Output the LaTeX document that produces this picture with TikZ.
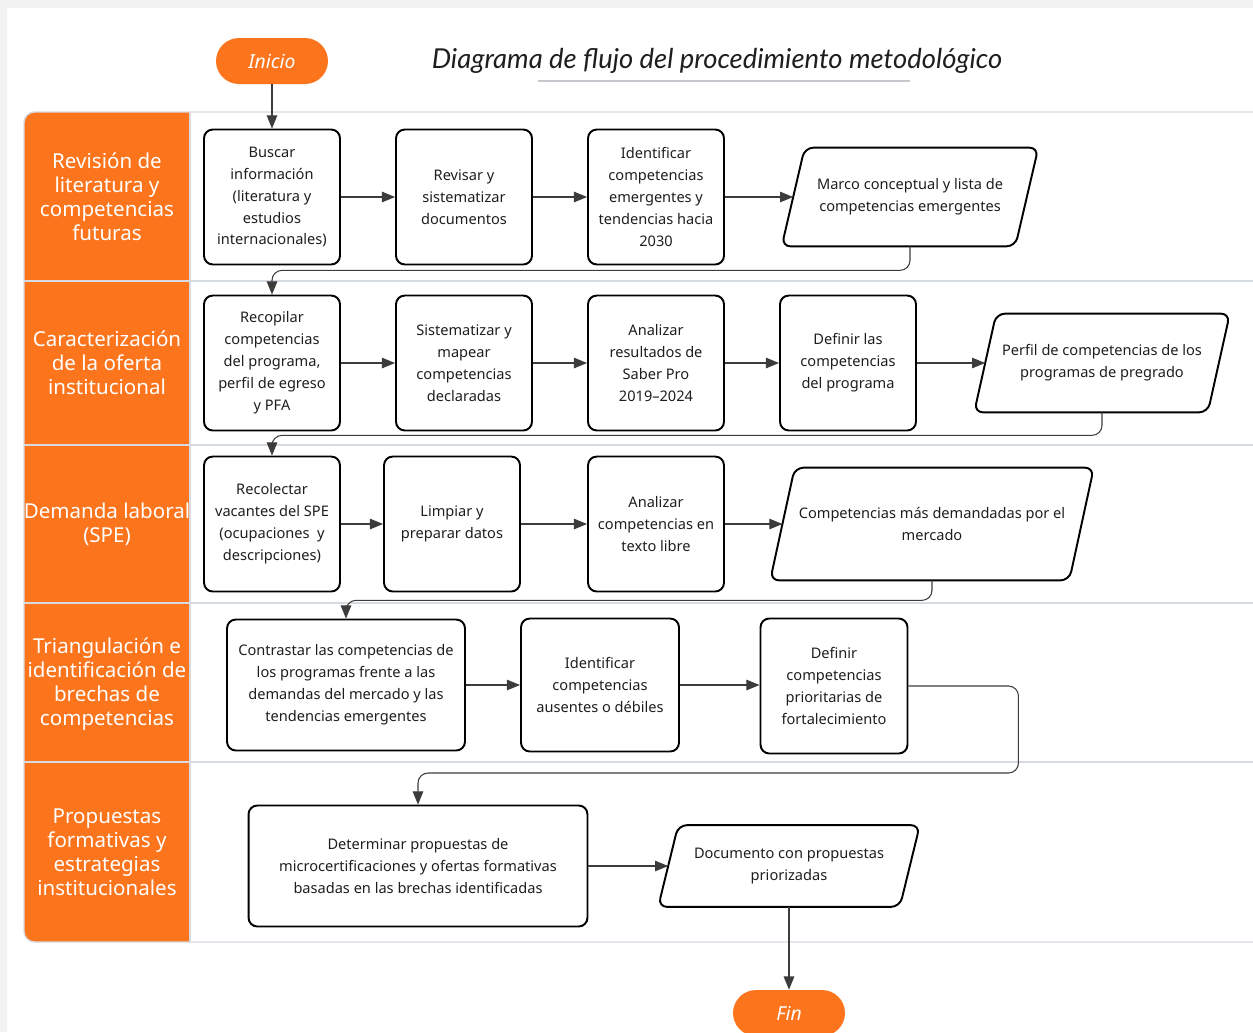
\documentclass[tikz,border=0pt]{standalone}
\usepackage{fontspec}
\setmainfont{Noto Sans}
\newfontfamily\titlefont{Lato}
\usetikzlibrary{arrows.meta}
\definecolor{laneorange}{RGB}{252,116,28}
\definecolor{laneline}{RGB}{214,219,225}
\definecolor{pagegray}{RGB}{242,242,242}
\definecolor{linkgray}{RGB}{60,60,60}
\definecolor{boxtext}{RGB}{30,30,30}
% parallelogram drawn round a named node: #1 node, #2 slant
\newcommand{\ioshape}[2]{\draw[line width=1.1pt,rounded corners=5pt] ([xshift=#2]#1.north west) -- (#1.north east) -- ([xshift=-#2]#1.south east) -- (#1.south west) -- cycle;}
\begin{document}
\begin{tikzpicture}[x=0.02cm,y=-0.02cm,
  stepbox/.style={draw,line width=1.1pt,rounded corners=5pt,align=center,text=boxtext,
    font=\fontsize{8.3}{12.5}\selectfont,minimum width=2.72cm,minimum height=2.7cm,inner sep=2pt},
  iobox/.style={align=center,text=boxtext,font=\fontsize{8.3}{12.5}\selectfont,inner sep=0pt},
  lanelabel/.style={align=center,text=white,font=\fontsize{11.7}{13.7}\selectfont},
  pill/.style={fill=laneorange,rounded corners=0.46cm,minimum width=2.24cm,minimum height=0.92cm,
    text=white,font=\fontsize{11}{12}\selectfont\itshape},
  link/.style={draw=linkgray,line width=0.6pt,-{Triangle[length=7.5pt,width=6pt]}},
  uplink/.style={link,rounded corners=0.2cm}]
\useasboundingbox (0,0) rectangle (1253,1032);
\fill[pagegray] (0,0) rectangle (1253,1032);
\fill[white] (7,8) rectangle (1253,1032);

% swimlanes
\fill[laneorange,rounded corners=6] (24,112) rectangle (200,942);
\fill[white] (190,112) rectangle (1253,942);
\foreach \y in {281,445,603,762}
  \draw[laneline,line width=0.8pt] (24,\y) -- (1253,\y);
\draw[laneline,line width=0.8pt] (190,112) -- (190,942);
\draw[laneline,line width=0.8pt,rounded corners=6] (1253,112) -- (24,112) -- (24,942) -- (1253,942);

\node[lanelabel] (L1) at (107,197) {Revisión de\\literatura y\\competencias\\futuras};
\node[lanelabel] (L2) at (107,363) {Caracterización\\de la oferta\\institucional};
\node[lanelabel] (L3) at (107,524) {Demanda laboral\\(SPE)};
\node[lanelabel] (L4) at (107,684) {Triangulación e\\identificación de\\brechas de\\competencias};
\node[lanelabel] (L5) at (107,852) {Propuestas\\formativas y\\estrategias\\institucionales};

% title
\node[font=\titlefont\fontsize{15.6}{17}\selectfont\itshape,text=boxtext] (title) at (717,61) {Diagrama de flujo del procedimiento metodológico};
\draw[laneline!80!gray,line width=1pt] (538,81) -- (910,81);

\node[pill] (inicio) at (272,61) {Inicio};

% lane 1
\node[stepbox] (B1) at (272,197) {Buscar\\información\\(literatura y\\estudios\\internacionales)};
\node[stepbox] (B2) at (464,197) {Revisar y\\sistematizar\\documentos};
\node[stepbox] (B3) at (656,197) {Identificar\\competencias\\emergentes y\\tendencias hacia\\2030};
\node[iobox,minimum width=5.12cm,minimum height=1.96cm] (P1) at (910,197) {Marco conceptual y lista de\\competencias emergentes};
\ioshape{P1}{0.46cm}

% lane 2
\node[stepbox] (B4) at (272,363) {Recopilar\\competencias\\del programa,\\perfil de egreso\\y PFA};
\node[stepbox] (B5) at (464,363) {Sistematizar y\\mapear\\competencias\\declaradas};
\node[stepbox] (B6) at (656,363) {Analizar\\resultados de\\Saber Pro\\2019–2024};
\node[stepbox] (B7) at (848,363) {Definir las\\competencias\\del programa};
\node[iobox,minimum width=5.1cm,minimum height=1.96cm] (P2) at (1102,363) {Perfil de competencias de los\\programas de pregrado};
\ioshape{P2}{0.44cm}

% lane 3
\node[stepbox] (B8) at (272,524) {Recolectar\\vacantes del SPE\\(ocupaciones~~y\\descripciones)};
\node[stepbox] (B9) at (452,524) {Limpiar y\\preparar datos};
\node[stepbox] (B10) at (656,524) {Analizar\\competencias en\\texto libre};
\node[iobox,minimum width=6.46cm,minimum height=2.24cm] (P3) at (932,524) {Competencias más demandadas por el\\mercado};
\ioshape{P3}{0.49cm}

% lane 4
\node[stepbox,minimum width=4.76cm,minimum height=2.62cm] (B11) at (346,685) {Contrastar las competencias de\\los programas frente a las\\demandas del mercado y las\\tendencias emergentes};
\node[stepbox,minimum width=3.16cm,minimum height=2.66cm] (B12) at (600,685) {Identificar\\competencias\\ausentes o débiles};
\node[stepbox,minimum width=2.94cm,minimum height=2.7cm] (B13) at (834,686) {Definir\\competencias\\prioritarias de\\fortalecimiento};

% lane 5
\node[stepbox,minimum width=6.78cm,minimum height=2.42cm] (B14) at (418,866) {Determinar propuestas de\\microcertificaciones y ofertas formativas\\basadas en las brechas identificadas};
\node[iobox,minimum width=5.22cm,minimum height=1.62cm] (P4) at (789,866) {Documento con propuestas\\priorizadas};
\ioshape{P4}{0.4cm}

\node[pill] (fin) at (789,1013) {Fin};

% connectors
\draw[link] (inicio) -- (B1);
\draw[link] (B1) -- (B2);
\draw[link] (B2) -- (B3);
\draw[link] (B3) -- ([xshift=0.23cm]P1.west);
\draw[uplink] (P1.south) -- ++(0,24) -| (B4.north);
\draw[link] (B4) -- (B5);
\draw[link] (B5) -- (B6);
\draw[link] (B6) -- (B7);
\draw[link] (B7) -- ([xshift=0.22cm]P2.west);
\draw[uplink] (P2.south) -- ++(0,23) -| (B8.north);
\draw[link] (B8) -- (B9);
\draw[link] (B9) -- (B10);
\draw[link] (B10) -- ([xshift=0.245cm]P3.west);
\draw[uplink] (P3.south) -- ++(0,20) -| (B11.north);
\draw[link] (B11.east |- B12) -- (B12);
\draw[link] (B12) -- (B13.west |- B12);
\draw[uplink] (B13.east) -- ++(110,0) -- ++(0,87) -| (B14.north);
\draw[link] (B14) -- ([xshift=0.2cm]P4.west);
\draw[link] (P4.south) -- (fin.north);
\end{tikzpicture}
\end{document}
